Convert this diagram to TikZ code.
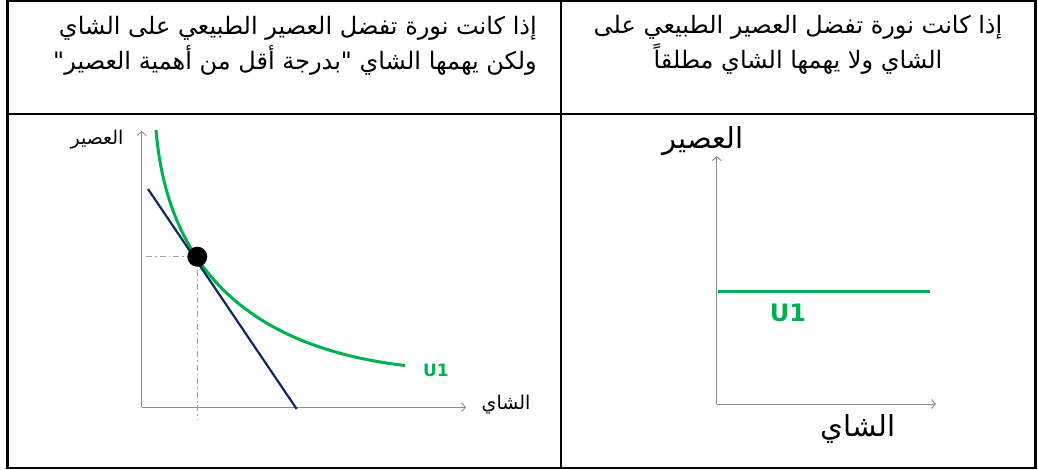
\documentclass[tikz,border=0pt]{standalone}
\usepackage{fontspec}
\usetikzlibrary{arrows.meta}
\newfontfamily\arabicfont[Script=Arabic]{DejaVu Sans}
\newfontfamily\latinfont{DejaVu Sans}
\TeXXeTstate=1
\definecolor{ugreen}{HTML}{00B050}
\definecolor{budgetblue}{HTML}{0F2A66}
\definecolor{axisgray}{HTML}{8C8C8C}

\begin{document}
\begin{tikzpicture}[
    x=1pt,
    y=-1pt,
    cellrule/.style={
        draw=black,
        line width=2.2pt
    },
    heading/.style={
        font=\arabicfont\fontsize{24}{35}\selectfont,
        inner sep=0pt
    },
    axis/.style={
        draw=axisgray,
        line width=0.9pt,
        -{Straight Barb[length=4pt,width=9pt]}
    },
    axislabel/.style={
        font=\arabicfont\fontsize{19}{21}\selectfont,
        inner sep=0pt
    },
    biglabel/.style={
        font=\arabicfont\fontsize{29}{31}\selectfont,
        inner sep=0pt
    },
    curve/.style={
        draw=ugreen,
        line width=3pt
    },
    budget/.style={
        draw=budgetblue,
        line width=2.2pt
    },
    guide/.style={
        draw=axisgray!80,
        line width=1pt,
        dash pattern=on 6pt off 3pt on 1.5pt off 3pt
    },
    ulabel/.style={
        font=\latinfont\bfseries\fontsize{17}{19}\selectfont,
        text=ugreen,
        inner sep=0pt
    }
]

\useasboundingbox (0,0) rectangle (1038,470);

\draw[cellrule] (7.5,1) rectangle (1035.5,467.7);
\draw[cellrule] (561,1) -- (561,467.7);
\draw[cellrule] (7.5,114.3) -- (1035.5,114.3);

\node[heading, anchor=east, align=right] (headleft) at (537,46) {
    \beginR إذا كانت نورة تفضل العصير الطبيعي على الشاي\endR\\
    \beginR ولكن يهمها الشاي "بدرجة أقل من أهمية العصير"\endR
};

\node[heading, align=center] (headright) at (798,45) {
    \beginR إذا كانت نورة تفضل العصير الطبيعي على\endR\\
    \beginR الشاي ولا يهمها الشاي مطلقاً\endR
};

\coordinate (originleft) at (141.7,407.3);
\coordinate (ytipleft) at (141.7,131);
\coordinate (xtipleft) at (466,407.3);

\draw[axis] (originleft) -- (ytipleft);
\draw[axis] (originleft) -- (xtipleft);

\node[axislabel] (juiceleft) at (97,140) {\beginR العصير\endR};
\node[axislabel] (tealeft) at (506,405) {\beginR الشاي\endR};

\coordinate (curvestart) at (156,130);
\coordinate (curveend) at (405,365.5);

\draw[curve] (curvestart) .. controls (166,250) and (230,345) .. (curveend);

\node[ulabel] (uleft) at (436,370.5) {U1};

\coordinate (budgettop) at (148,189);
\coordinate (budgetbottom) at (296.7,409);
\coordinate (yproj) at (146,256.7);
\coordinate (xproj) at (197.3,419);

\draw[guide] (yproj) -- (197.3,256.7);
\draw[guide] (197.3,256.7) -- (xproj);

\draw[budget] (budgettop) -- (budgetbottom);

\node[circle, fill=black, minimum size=20pt, inner sep=0pt] (optimum) at (197.3,256.7) {};

\coordinate (originright) at (716.7,404);
\coordinate (ytipright) at (716.7,156);
\coordinate (xtipright) at (936,404);

\draw[axis] (originright) -- (ytipright);
\draw[axis] (originright) -- (xtipright);

\node[biglabel] (juiceright) at (703,141) {\beginR العصير\endR};
\node[biglabel] (tearight) at (858,429) {\beginR الشاي\endR};

\coordinate (flatstart) at (718,291);
\coordinate (flatend) at (930,291);

\draw[curve] (flatstart) -- (flatend);

\node[ulabel, font=\latinfont\bfseries\fontsize{24}{26}\selectfont] (uright) at (788,313) {U1};

\end{tikzpicture}
\end{document}
